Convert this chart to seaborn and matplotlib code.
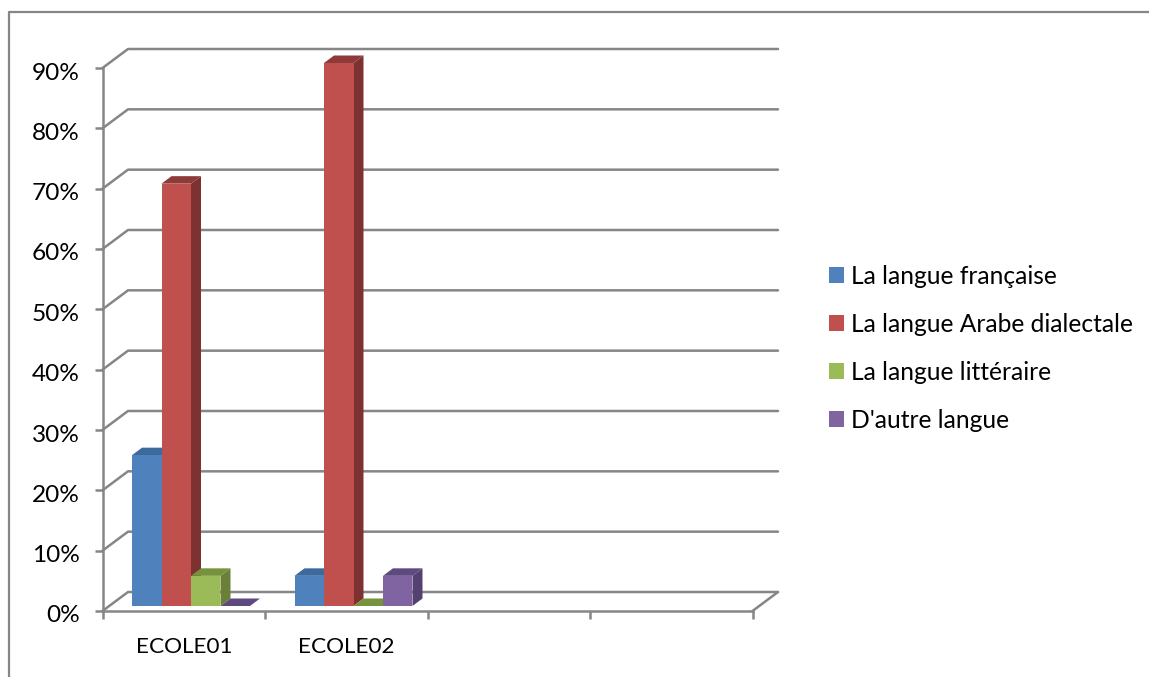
import matplotlib
matplotlib.use("Agg")
import matplotlib.pyplot as plt
from matplotlib.lines import Line2D
from matplotlib.patches import Polygon
from matplotlib.ticker import FixedLocator, PercentFormatter
from matplotlib.transforms import Affine2D, IdentityTransform
import pandas as pd
import seaborn as sns

# --- data ---
ecoles = ["ECOLE01", "ECOLE02"]
empty_slots = ["", " "]
langues = ["La langue française", "La langue Arabe dialectale", "La langue littéraire", "D'autre langue"]
ecole01 = [0.25, 0.70, 0.05, 0.0]
ecole02 = [0.05, 0.90, 0.0, 0.05]
y_ticks = [0.0, 0.1, 0.2, 0.3, 0.4, 0.5, 0.6, 0.7, 0.8, 0.9]

# --- colours ---
front_colors = ["#4F81BD", "#C0504D", "#9BBB59", "#8064A2"]
side_colors = ["#38608F", "#7D3231", "#6A8039", "#54416F"]
top_colors = ["#3C6A9E", "#8E3A38", "#76923C", "#5F4A80"]
GREY = "#868686"
LW = 1.8

# 3d look, in pixels
WALL_DX, WALL_DY = 25.5, 19
BAR_DX, BAR_DY = 7.25, 5
DEPTH_DX, DEPTH_DY = 10, 7.5
W, H = 1149, 677

sns.set_theme(style="white")
plt.rcParams["font.family"] = ["Lato", "DejaVu Sans"]

df = pd.DataFrame({
    "ecole": [ecoles[0]] * 4 + [ecoles[1]] * 4,
    "langue": langues * 2,
    "valeur": ecole01 + ecole02,
})

fig = plt.figure(figsize=(W / 100, H / 100), dpi=100, facecolor="white")
ax = fig.add_axes([102.5 / W, (H - 611) / H, 650 / W, 543 / H])
ax.patch.set_alpha(0)

sns.barplot(
    data=df, x="ecole", y="valeur", hue="langue",
    order=ecoles + empty_slots, hue_order=langues,
    palette=front_colors, saturation=1, width=0.726, gap=0, errorbar=None,
    linewidth=0, edgecolor="none", ax=ax,
)
ax.set_xlim(-0.5, 3.5)
ax.set_ylim(0, 0.9)
ax.set_xlabel("")
ax.set_ylabel("")

# axes
ax.yaxis.set_major_locator(FixedLocator(y_ticks))
ax.yaxis.set_major_formatter(PercentFormatter(1.0, decimals=0))
ax.xaxis.set_minor_locator(FixedLocator([-0.5, 0.5, 1.5, 2.5, 3.5]))
ax.tick_params(axis="x", which="major", length=0, pad=19, labelsize=16.2, labelcolor="black")
ax.tick_params(axis="x", which="minor", bottom=True, length=5.5, width=LW, color=GREY)
ax.tick_params(axis="y", left=True, length=5.5, width=LW, color=GREY, pad=11, labelsize=17.6, labelcolor="black")
sns.despine(ax=ax, top=True, right=True)
for side in ["left", "bottom"]:
    ax.spines[side].set_color(GREY)
    ax.spines[side].set_linewidth(LW)
# labels sit a little under their tick in the original
for label in ax.get_yticklabels():
    label.set_transform(label.get_transform() + Affine2D().translate(0, -3))

# back wall + floor
px = IdentityTransform()
xmin, xmax = ax.get_xlim()
for t in y_ticks:
    x0, y0 = ax.transData.transform((xmin, t))
    x1, _ = ax.transData.transform((xmax, t))
    ax.add_line(Line2D([x0, x0 + WALL_DX, x1 + WALL_DX], [y0, y0 + WALL_DY, y0 + WALL_DY],
                       transform=px, color=GREY, lw=LW, zorder=0.5, clip_on=False))
x0, y0 = ax.transData.transform((xmax, 0))
ax.add_line(Line2D([x0, x0 + WALL_DX], [y0, y0 + WALL_DY], transform=px, color=GREY, lw=LW, zorder=0.5, clip_on=False))

# bars: shift the front faces and add side and top faces
bars = sorted(ax.patches, key=lambda p: p.get_x())
z = 3
for bar in bars:
    color = matplotlib.colors.to_hex(bar.get_facecolor())
    idx = front_colors.index(color.upper())
    x, w, h = bar.get_x(), bar.get_width(), bar.get_height()
    (xa, ya), (xb, yb) = ax.transData.transform([(x, 0), (x + w, h)])
    xa, xb, ya, yb = xa + BAR_DX, xb + BAR_DX, ya + BAR_DY, yb + BAR_DY
    side = Polygon([(xb, ya), (xb + DEPTH_DX, ya + DEPTH_DY), (xb + DEPTH_DX, yb + DEPTH_DY), (xb, yb)],
                   transform=px, facecolor=side_colors[idx], edgecolor="none", zorder=z, clip_on=False)
    top = Polygon([(xa, yb), (xa + DEPTH_DX, yb + DEPTH_DY), (xb + DEPTH_DX, yb + DEPTH_DY), (xb, yb)],
                  transform=px, facecolor=top_colors[idx], edgecolor="none", zorder=z, clip_on=False)
    ax.add_patch(side)
    ax.add_patch(top)
    bar.set_transform(ax.transData + Affine2D().translate(BAR_DX, BAR_DY))
    bar.set_clip_on(False)
    bar.set_zorder(z + 0.5)
    z += 1

# legend
sns.move_legend(
    ax, loc="upper left", bbox_to_anchor=(829 / W, (H - 265) / H), bbox_transform=fig.transFigure,
    title=None, frameon=False, fontsize=17.7, handlelength=0.61, handleheight=0.61,
    handletextpad=0.28, labelspacing=1.015, borderpad=0, borderaxespad=0,
)
for text in ax.get_legend().get_texts():
    text.set_color("black")

# chart area border, only top and left are visible
fig.add_artist(Line2D([8.5 / W, 8.5 / W, 1], [0, (H - 12) / H, (H - 12) / H], color=GREY, lw=1.6))

fig.savefig("out.png", dpi=100)
